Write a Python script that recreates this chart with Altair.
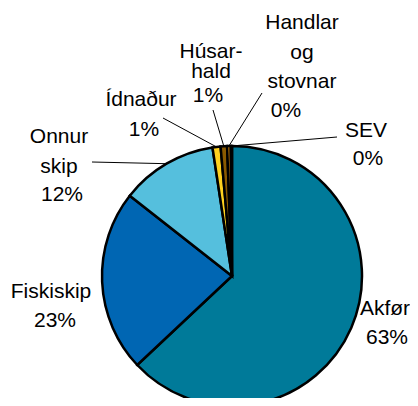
import altair as alt
import pandas as pd
import numpy as np

# ---- data ----
categories = ["Akfør", "Fiskiskip", "Onnur skip", "Ídnaður", "Húsarhald", "Handlar og stovnar", "SEV"]
values = [63.0, 22.6, 12.0, 1.0, 0.8, 0.45, 0.15]
name_text = ["Akfør", "Fiskiskip", "Onnur\nskip", "Ídnaður", "Húsar-\nhald", "Handlar\nog\nstovnar", "SEV"]
colors = ["#007A99", "#0066B3", "#55BFDD", "#FFD21F", "#8B5A00", "#F39C12", "#7F7F7F"]

# label anchors, pixels relative to pie centre (x right, y down)
name_dx = [153, -181, -173, -91, -21, 70, 134]
name_dy = [39, 22, -133, -170, -218, -247, -139]
pct_dx = [155, -177, -170, -88, -24, 54, 136]
pct_dy = [68, 51, -75, -140, -174, -159, -111]
lead_dx = [None, None, -140, -69, -19, 30, 105]
lead_dy = [None, None, -114, -158, -166, -183, -139]

W, H = 402, 390
CX, CY, R = 224, 268, 130

vals = np.array(values)
tot = vals.sum()
cum = np.cumsum(vals) / tot
mid = (cum - vals / tot / 2) * 2 * np.pi

df = pd.DataFrame({
    "idx": range(len(categories)),
    "category": categories,
    "value": values,
    "name": name_text,
    "pct": [f"{int(round(v / tot * 100))}%" for v in values],
    "nx": name_dx, "ny": [-v for v in name_dy],
    "px": pct_dx, "py": [-v for v in pct_dy],
    "lx": lead_dx, "ly": [None if v is None else -v for v in lead_dy],
    "ex": R * np.sin(mid), "ey": R * np.cos(mid),
})

xs = alt.Scale(domain=[-CX, W - CX])
ys = alt.Scale(domain=[-(H - CY), CY])

base = alt.Chart(df)

arcs = base.mark_arc(outerRadius=R, stroke="black", strokeWidth=2.5).encode(
    theta=alt.Theta("value:Q", stack=True),
    color=alt.Color("category:N", scale=alt.Scale(domain=categories, range=colors), legend=None),
    order=alt.Order("idx:Q"),
    x=alt.value(CX), y=alt.value(CY),
)

rules = base.transform_filter("isValid(datum.lx)").mark_rule(color="black", strokeWidth=1).encode(
    x=alt.X("lx:Q", scale=xs, axis=None), y=alt.Y("ly:Q", scale=ys, axis=None),
    x2="ex:Q", y2="ey:Q",
)

font = dict(font="Liberation Sans", fontSize=21, align="center", baseline="alphabetic", color="black")

names = base.transform_filter("datum.category != 'Húsarhald'").mark_text(lineBreak="\n", lineHeight=29.5, **font).encode(
    x=alt.X("nx:Q", scale=xs, axis=None), y=alt.Y("ny:Q", scale=ys, axis=None), text="name:N",
)
names2 = base.transform_filter("datum.category == 'Húsarhald'").mark_text(lineBreak="\n", lineHeight=19.5, **font).encode(
    x=alt.X("nx:Q", scale=xs, axis=None), y=alt.Y("ny:Q", scale=ys, axis=None), text="name:N",
)
pcts = base.mark_text(**font).encode(
    x=alt.X("px:Q", scale=xs, axis=None), y=alt.Y("py:Q", scale=ys, axis=None), text="pct:N",
)

chart = alt.layer(arcs, rules, names, names2, pcts).properties(
    width=W, height=H, padding=0, autosize=alt.AutoSizeParams(type="none"),
    background="white",
).configure_view(stroke=None)

chart.save("out.html", embed_options={"renderer": "svg", "actions": False})
